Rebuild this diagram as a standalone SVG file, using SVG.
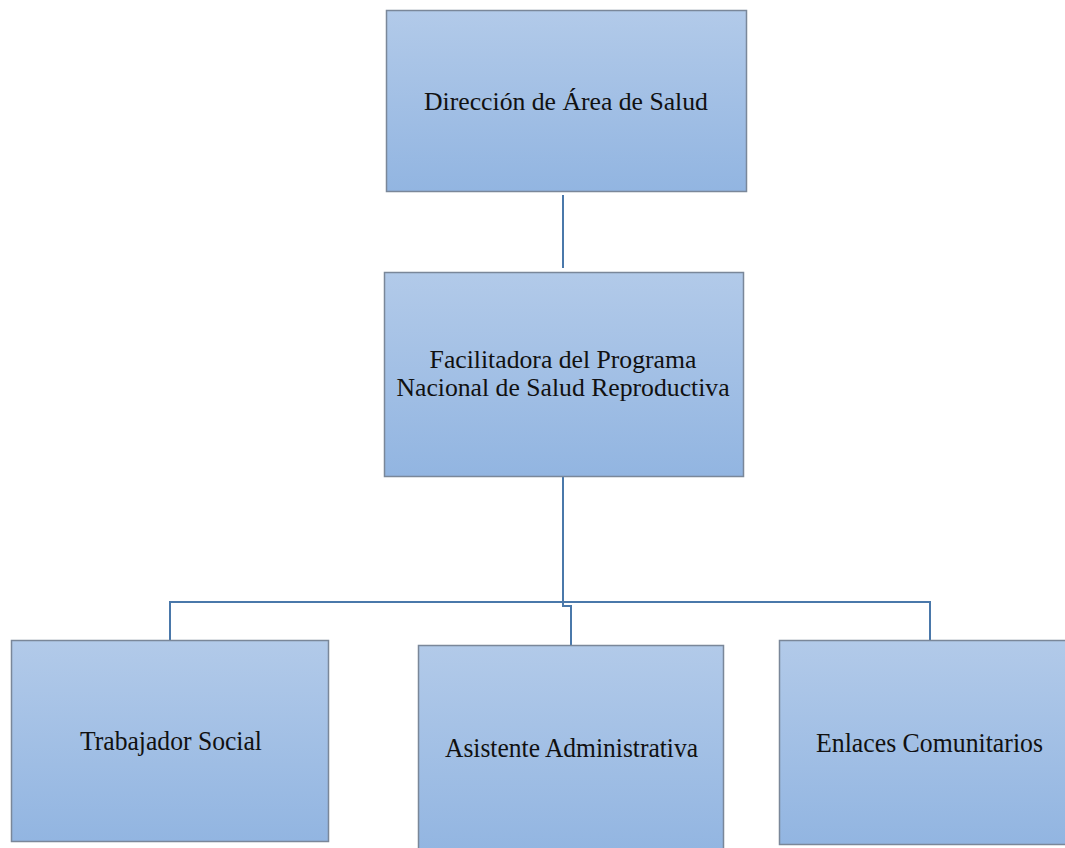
<svg xmlns="http://www.w3.org/2000/svg" width="1065" height="848" viewBox="0 0 1065 848">
<defs>
<linearGradient id="g" x1="0" y1="0" x2="0" y2="1">
<stop offset="0" stop-color="#b2cae9"/>
<stop offset="1" stop-color="#92b5e1"/>
</linearGradient>
<style>
.box{fill:url(#g);stroke:#7a8799;stroke-width:1.5}
.t{font-family:"Liberation Serif","Times New Roman",serif;fill:#111;text-anchor:middle}
.c{fill:none;stroke:#4a78aa;stroke-width:2}
</style>
</defs>
<rect width="1065" height="848" fill="#ffffff"/>
<g id="connectors">
<path class="c" d="M563 195 V268"/>
<path class="c" d="M563 477 V606 H571 V645"/>
<path class="c" d="M170 640 V602 H930 V640"/>
</g>
<g id="n1">
<rect class="box" x="386.5" y="10.5" width="360" height="181"/>
<text class="t" x="566" y="110" font-size="25.7">Dirección de Área de Salud</text>
</g>
<g id="n2">
<rect class="box" x="384.5" y="272.5" width="359" height="204"/>
<text class="t" x="563" y="368" font-size="25.7">Facilitadora del Programa</text>
<text class="t" x="563" y="396" font-size="25.7">Nacional de Salud Reproductiva</text>
</g>
<g id="n3">
<rect class="box" x="11.5" y="640.5" width="317" height="201"/>
<text class="t" x="171" y="750" font-size="27.5" textLength="182" lengthAdjust="spacingAndGlyphs">Trabajador Social</text>
</g>
<g id="n4">
<rect class="box" x="418.5" y="645.5" width="305" height="210"/>
<text class="t" x="571.5" y="757" font-size="27.5" textLength="253" lengthAdjust="spacingAndGlyphs">Asistente Administrativa</text>
</g>
<g id="n5">
<rect class="box" x="779.5" y="640.5" width="300" height="204"/>
<text class="t" x="929.5" y="752" font-size="27.5" textLength="227" lengthAdjust="spacingAndGlyphs">Enlaces Comunitarios</text>
</g>
</svg>
